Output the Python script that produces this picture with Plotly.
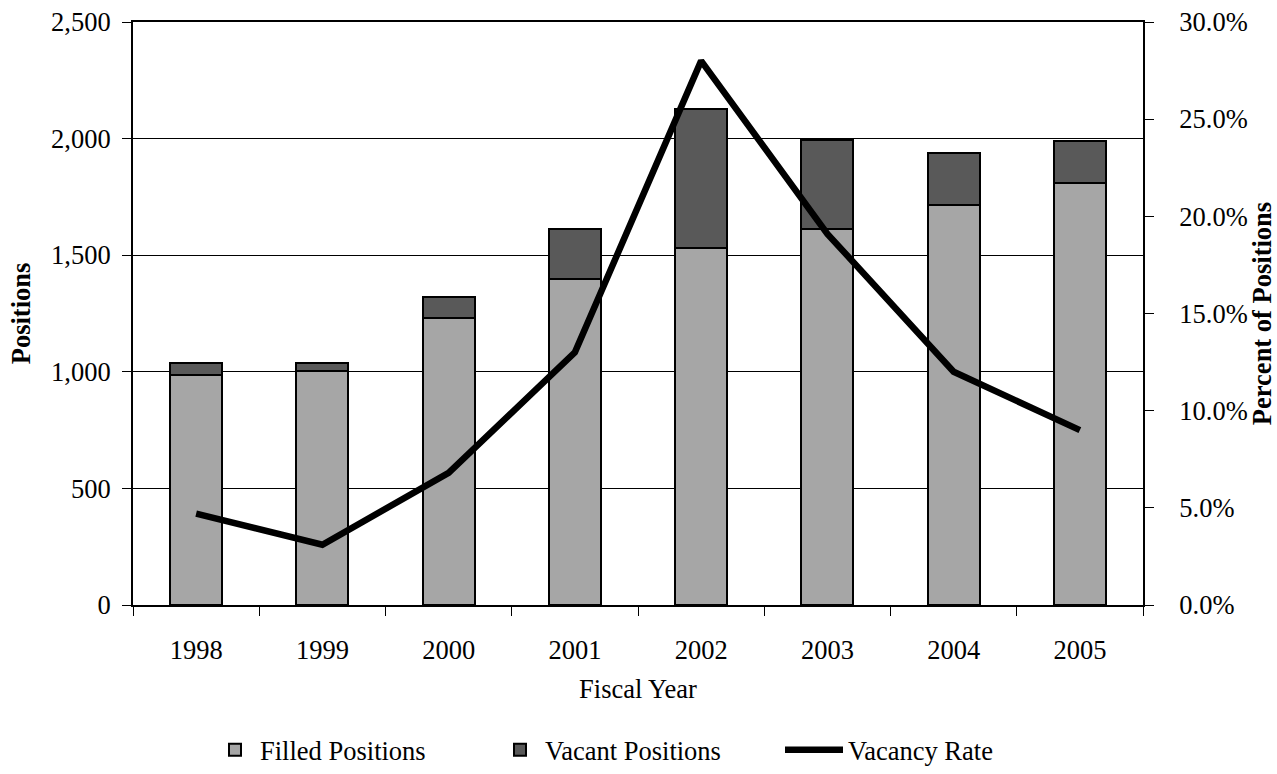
import plotly.graph_objects as go

years = ["1998", "1999", "2000", "2001", "2002", "2003", "2004", "2005"]
filled = [986, 1003, 1229, 1397, 1529, 1614, 1714, 1808]
vacant = [51, 34, 90, 215, 598, 381, 225, 180]
vacancy_rate = [0.047, 0.031, 0.068, 0.130, 0.280, 0.191, 0.120, 0.090]

FONT = "Liberation Serif"
FS = 26.5
W, H = 1277, 774
L, R, T, B = 133, 134, 22, 169

fig = go.Figure()
fig.add_trace(go.Bar(
    x=years, y=filled, name="Filled Positions", width=0.41, legend="legend",
    marker=dict(color="#a6a6a6", line=dict(color="black", width=2)),
))
fig.add_trace(go.Bar(
    x=years, y=vacant, name="Vacant Positions", width=0.41, legend="legend2",
    marker=dict(color="#595959", line=dict(color="black", width=2)),
))
fig.add_trace(go.Scatter(
    x=years, y=vacancy_rate, name="Vacancy Rate", yaxis="y2", legend="legend3",
    mode="lines", line=dict(color="black", width=6.5),
))

def leg(xpx, iw):
    return dict(
        orientation="h", xref="container", yref="container",
        x=xpx / W, xanchor="left", y=0.0, yanchor="bottom",
        font=dict(family=FONT, size=FS), itemwidth=iw,
        bgcolor="rgba(0,0,0,0)", borderwidth=0,
    )

fig.update_layout(
    width=W, height=H,
    margin=dict(l=L, r=R, t=T, b=B, pad=0),
    paper_bgcolor="white", plot_bgcolor="white",
    barmode="stack",
    font=dict(family=FONT, size=FS, color="black"),
    showlegend=True,
    legend=leg(210, 40),
    legend2=leg(495, 40),
    legend3=leg(780, 58),
    xaxis=dict(
        type="category", showline=True, linecolor="black", linewidth=2,
        mirror=True, ticks="outside", tickson="boundaries", ticklen=9,
        tickcolor="black", tickwidth=1, showgrid=False, automargin=False,
        ticklabelstandoff=20,
        title=dict(text="Fiscal Year", standoff=16, font=dict(family=FONT, size=FS)),
    ),
    yaxis=dict(
        range=[0, 2500], dtick=500, tickformat=",", showline=True,
        linecolor="black", linewidth=2, ticks="outside", ticklen=9,
        tickcolor="black", tickwidth=1, showgrid=True, gridcolor="black",
        gridwidth=1, zeroline=False, ticklabelstandoff=6, automargin=False,
        title=dict(text="<b>Positions</b>", standoff=13, font=dict(family=FONT, size=FS)),
    ),
    yaxis2=dict(
        overlaying="y", side="right", range=[0, 0.30], dtick=0.05,
        tickformat=".1%", showline=True, linecolor="black", linewidth=2,
        ticks="outside", ticklen=9, tickcolor="black", tickwidth=1,
        showgrid=False, zeroline=False, ticklabelstandoff=20, automargin=False,
        title=dict(text="<b>Percent of Positions</b>", standoff=18, font=dict(family=FONT, size=FS)),
    ),
)

fig.write_html("out.html")
